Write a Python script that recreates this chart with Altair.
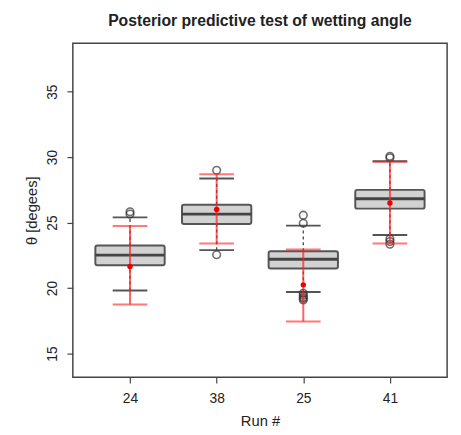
import altair as alt
import pandas as pd

runs = ["24", "38", "25", "41"]
q1 = [21.75, 24.90, 21.50, 26.07]
median = [22.52, 25.65, 22.20, 26.82]
q3 = [23.25, 26.37, 22.82, 27.50]
whisker_lo = [19.82, 22.90, 19.70, 24.05]
whisker_hi = [25.40, 28.37, 24.77, 29.68]

out_run = ["24", "24", "38", "38", "25", "25", "25", "25", "25", "25", "25", "41", "41", "41", "41", "41"]
out_val = [25.65, 25.83, 29.00, 22.55, 25.57, 24.95, 19.60, 19.45, 19.30, 19.20, 19.10, 30.07, 29.95, 23.75, 23.55, 23.35]

pred_mean = [21.65, 26.00, 20.25, 26.50]
pred_lo = [18.75, 23.40, 17.45, 23.40]
pred_hi = [24.75, 28.70, 22.95, 29.65]

pos = list(range(1, len(runs) + 1))
boxes = pd.DataFrame({
    "run": runs, "pos": pos, "q1": q1, "med": median, "q3": q3,
    "wlo": whisker_lo, "whi": whisker_hi,
    "pm": pred_mean, "plo": pred_lo, "phi": pred_hi,
})
outl = pd.DataFrame({"run": out_run, "val": out_val})
outl["pos"] = outl["run"].map({r: i + 1 for i, r in enumerate(runs)})

FONT = "Liberation Sans"
label_expr = "[" + ",".join("'%s'" % r for r in runs) + "][datum.value - 1]"

xscale = alt.Scale(domain=[0.34, 4.66], nice=False, zero=False)
yscale = alt.Scale(domain=[13.2, 38.7], nice=False, zero=False)

xaxis = alt.Axis(values=pos, labelExpr=label_expr, title="Run #", grid=False,
                 domain=False, tickSize=6, tickColor="#444", tickWidth=1.2,
                 labelFontSize=14, labelFont=FONT, labelColor="#222", labelPadding=9,
                 titleFontSize=15, titleFont=FONT, titleColor="#222", titleFontWeight="normal",
                 titleX=190.5, titleY=44, titleBaseline="middle", titleAlign="center")
yaxis = alt.Axis(values=[15, 20, 25, 30, 35], title="θ [degees]", grid=False,
                 domain=False, tickSize=6, tickColor="#444", tickWidth=1.2,
                 labelFontSize=14, labelFont=FONT, labelColor="#222", labelAngle=-90,
                 labelAlign="center", labelBaseline="bottom", labelPadding=8,
                 titleFontSize=15, titleFont=FONT, titleColor="#222", titleFontWeight="normal",
                 titleX=-42, titleY=170, titleAngle=-90, titleBaseline="middle", titleAlign="center")

base = alt.Chart(boxes).transform_calculate(
    bl="datum.pos - 0.4", br="datum.pos + 0.4",
    cl="datum.pos - 0.2", cr="datum.pos + 0.2",
)

X = alt.X("pos:Q", scale=xscale, axis=xaxis)

wh_up = base.mark_rule(color="#444", strokeWidth=1.3, strokeDash=[3, 3]).encode(
    x=X, y=alt.Y("q3:Q", scale=yscale, axis=yaxis), y2="whi:Q")
wh_dn = base.mark_rule(color="#444", strokeWidth=1.3, strokeDash=[3, 3]).encode(
    x="pos:Q", y="wlo:Q", y2="q1:Q")
cap_hi = base.mark_rule(color="#555", strokeWidth=2).encode(
    x="cl:Q", x2="cr:Q", y="whi:Q")
cap_lo = base.mark_rule(color="#555", strokeWidth=2).encode(
    x="cl:Q", x2="cr:Q", y="wlo:Q")
box = base.mark_rect(fill="#d2d2d2", stroke="#555", strokeWidth=2, cornerRadius=2).encode(
    x="bl:Q", x2="br:Q", y="q1:Q", y2="q3:Q")
med = base.mark_rule(color="#444", strokeWidth=3).encode(
    x="bl:Q", x2="br:Q", y="med:Q")
pts = alt.Chart(outl).mark_point(shape="circle", filled=False, size=60,
                                 stroke="#333", strokeWidth=1.6).encode(
    x="pos:Q", y="val:Q")
red_line = base.mark_rule(color="#ff2020", opacity=0.7, strokeWidth=2).encode(
    x="pos:Q", y="plo:Q", y2="phi:Q")
red_cap_hi = base.mark_rule(color="#ff2020", opacity=0.6, strokeWidth=2).encode(
    x="cl:Q", x2="cr:Q", y="phi:Q")
red_cap_lo = base.mark_rule(color="#ff2020", opacity=0.6, strokeWidth=2).encode(
    x="cl:Q", x2="cr:Q", y="plo:Q")
red_pt = base.mark_point(shape="circle", filled=True, size=30, color="#ee0000", opacity=1).encode(
    x="pos:Q", y="pm:Q")

chart = alt.layer(
    wh_up, wh_dn, cap_hi, cap_lo, box, med, pts, red_line, red_cap_hi, red_cap_lo, red_pt
).properties(
    width=381, height=340,
    title=alt.TitleParams("Posterior predictive test of wetting angle", fontSize=16,
                          font=FONT, fontWeight="bold", color="#222", anchor="middle",
                          frame="group", offset=15),
    autosize=alt.AutoSizeParams(type="none"),
    padding={"left": 66, "top": 32, "right": 6, "bottom": 53},
    background="white",
).configure_view(stroke="#444", strokeWidth=1.5)

chart.save("out.html", embed_options={"renderer": "svg", "actions": False})
